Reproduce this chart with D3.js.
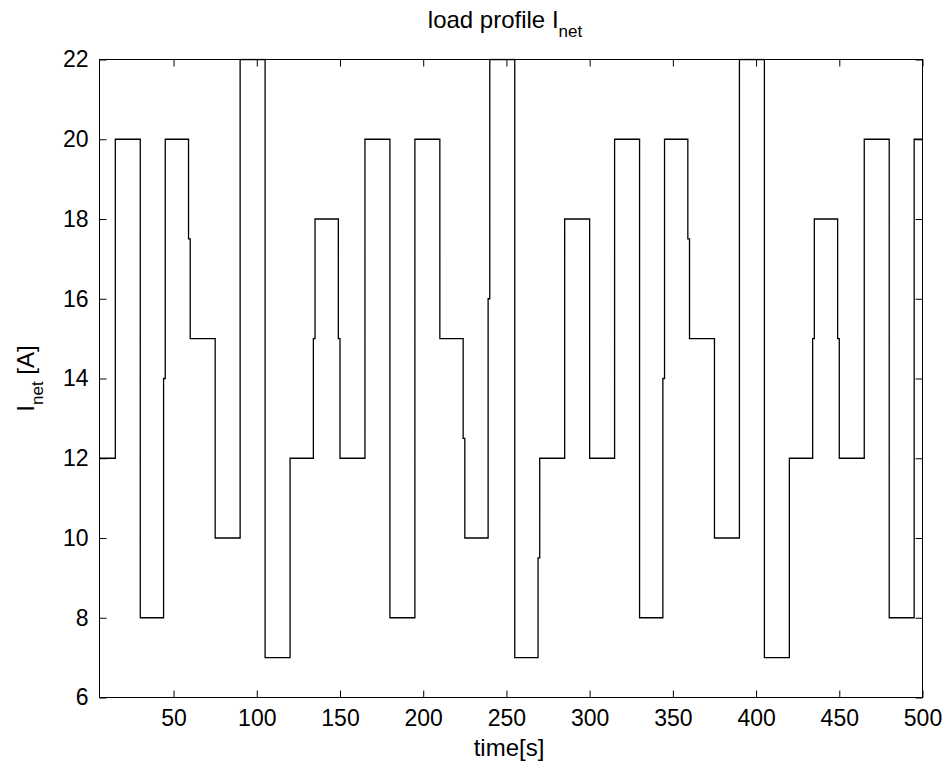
<!DOCTYPE html>
<html>
<head>
<meta charset="utf-8">
<script src="https://cdn.jsdelivr.net/npm/d3@7"></script>
<style>
  html, body { margin: 0; padding: 0; background: #fff; }
  svg { display: block; }
  text { font-family: "Liberation Sans", Arial, Helvetica, sans-serif; fill: #000; }
</style>
</head>
<body>
<svg id="chart" width="946" height="769"></svg>
<script>
// ---- data ----
// step breakpoints (s); value i holds from stepTimes[i] to stepTimes[i+1]
const stepTimes = [5.5, 15, 30, 44, 45, 59, 60, 75, 90, 105, 120, 134, 135, 149, 150,
  165, 180, 195, 210, 224, 225, 239, 240, 255, 269, 270, 285, 300,
  315, 330, 344, 345, 359, 360, 375, 390, 405, 420, 434, 435, 449, 450, 465, 480, 495, 500];
const stepValues = [12, 20, 8, 14, 20, 17.5, 15, 10, 22, 7, 12, 15, 18, 15,
  12, 20, 8, 20, 15, 12.5, 10, 16, 22, 7, 9.5, 12, 18,
  12, 20, 8, 14, 20, 17.5, 15, 10, 22, 7, 12, 15, 18, 15, 12, 20, 8, 20];
const xTicks = [50, 100, 150, 200, 250, 300, 350, 400, 450, 500];
const yTicks = [6, 8, 10, 12, 14, 16, 18, 20, 22];
const xDomain = [5.5, 500];
const yDomain = [6, 22];
const titleMain = "load profile I";
const titleSub = "net";
const xLabel = "time[s]";
const yLabelMain = "I";
const yLabelSub = "net";
const yLabelTail = " [A]";

// ---- layout ----
const pL = 99.5, pR = 922.5, pT = 59.5, pB = 697.5;
const svg = d3.select("#chart");
const x = d3.scaleLinear().domain(xDomain).range([pL, pR]);
const y = d3.scaleLinear().domain(yDomain).range([pB, pT]);

const pts = stepValues.map((v, i) => [stepTimes[i], v]);
pts.push([stepTimes[stepTimes.length - 1], stepValues[stepValues.length - 1]]);

svg.append("defs").append("clipPath").attr("id", "clip")
  .append("rect").attr("x", pL - 1).attr("y", pT - 1)
  .attr("width", pR - pL + 2).attr("height", pB - pT + 2);

const line = d3.line().x(d => x(d[0])).y(d => y(d[1])).curve(d3.curveStepAfter);
svg.append("path").datum(pts)
  .attr("clip-path", "url(#clip)")
  .attr("d", line)
  .attr("fill", "none").attr("stroke", "#000").attr("stroke-width", 1.3);

// axes with inward ticks on all four sides
const tl = 7;
const fs = 23;
const axB = d3.axisBottom(x).tickValues(xTicks).tickSizeInner(-tl).tickSizeOuter(0).tickPadding(12);
const axT = d3.axisTop(x).tickValues(xTicks).tickSizeInner(-tl).tickSizeOuter(0).tickFormat("");
const axL = d3.axisLeft(y).tickValues(yTicks).tickSizeInner(-tl).tickSizeOuter(0).tickPadding(11);
const axR = d3.axisRight(y).tickValues(yTicks).tickSizeInner(-tl).tickSizeOuter(0).tickFormat("");

function style(g) {
  g.select(".domain").remove();
  g.selectAll(".tick line").attr("stroke", "#000").attr("stroke-width", 1);
  g.selectAll(".tick text").style("font-size", fs + "px").attr("fill", "#000")
   .style("font-family", '"Liberation Sans", Arial, sans-serif');
}
svg.append("g").attr("transform", `translate(0,${pB})`).call(axB).call(style)
  .selectAll(".tick text").attr("dy", "0.71em");
svg.append("g").attr("transform", `translate(0,${pT})`).call(axT).call(style);
svg.append("g").attr("transform", `translate(${pL},0)`).call(axL).call(style);
svg.append("g").attr("transform", `translate(${pR},0)`).call(axR).call(style);

// box
svg.append("rect").attr("x", pL).attr("y", pT)
  .attr("width", pR - pL).attr("height", pB - pT)
  .attr("fill", "none").attr("stroke", "#000").attr("stroke-width", 1);

// title
const t = svg.append("text").attr("x", 505).attr("y", 28)
  .attr("text-anchor", "middle").style("font-size", "24px");
t.append("tspan").text(titleMain);
t.append("tspan").attr("dy", 9).style("font-size", "17px").text(titleSub);

// x label
svg.append("text").attr("x", 509).attr("y", 756)
  .attr("text-anchor", "middle").style("font-size", "24px").text(xLabel);

// y label
const yl = svg.append("text")
  .attr("transform", `translate(34,${(pT + pB) / 2}) rotate(-90)`)
  .attr("text-anchor", "middle").style("font-size", "24px");
yl.append("tspan").text(yLabelMain);
yl.append("tspan").attr("dy", 9).style("font-size", "17px").text(yLabelSub);
yl.append("tspan").attr("dy", -9).text(yLabelTail);
</script>
</body>
</html>
